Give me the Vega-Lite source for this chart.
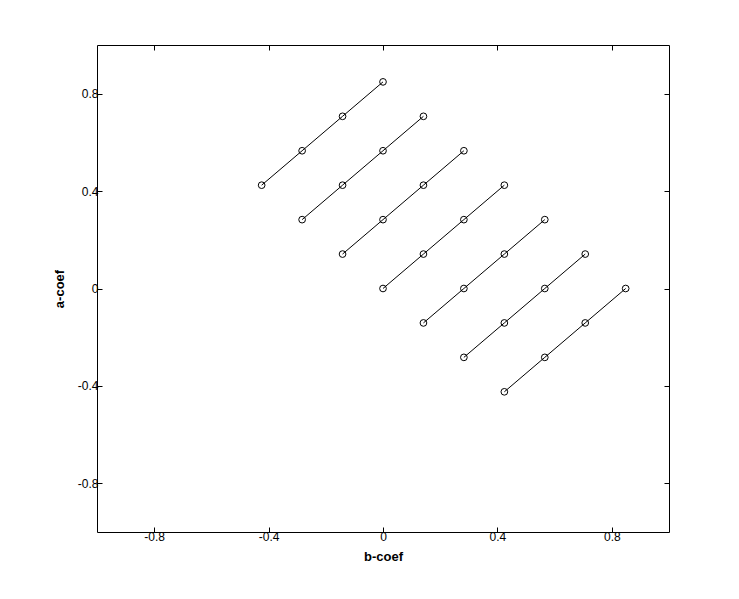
{
  "$schema": "https://vega.github.io/schema/vega-lite/v6.json",
  "width": 572,
  "height": 487,
  "autosize": {"type": "none"},
  "padding": {"left": 97, "top": 45, "right": 70, "bottom": 67},
  "background": "white",
  "config": {
    "view": {"stroke": "black", "strokeWidth": 1},
    "axis": {
      "domain": false,
      "grid": false,
      "tickSize": -5,
      "tickColor": "black",
      "labelFont": "Liberation Sans",
      "labelFontSize": 12,
      "labelColor": "black",
      "titleFont": "Liberation Sans",
      "titleFontSize": 13,
      "titleFontWeight": "bold",
      "titleColor": "black"
    }
  },
  "data": {
    "values": [
      {"line": 1, "b": -0.4243, "a": 0.4243},
      {"line": 1, "b": -0.2828, "a": 0.5657},
      {"line": 1, "b": -0.1414, "a": 0.7071},
      {"line": 1, "b": 0.0, "a": 0.8485},
      {"line": 2, "b": -0.2828, "a": 0.2828},
      {"line": 2, "b": -0.1414, "a": 0.4243},
      {"line": 2, "b": 0.0, "a": 0.5657},
      {"line": 2, "b": 0.1414, "a": 0.7071},
      {"line": 3, "b": -0.1414, "a": 0.1414},
      {"line": 3, "b": 0.0, "a": 0.2828},
      {"line": 3, "b": 0.1414, "a": 0.4243},
      {"line": 3, "b": 0.2828, "a": 0.5657},
      {"line": 4, "b": 0.0, "a": 0.0},
      {"line": 4, "b": 0.1414, "a": 0.1414},
      {"line": 4, "b": 0.2828, "a": 0.2828},
      {"line": 4, "b": 0.4243, "a": 0.4243},
      {"line": 5, "b": 0.1414, "a": -0.1414},
      {"line": 5, "b": 0.2828, "a": 0.0},
      {"line": 5, "b": 0.4243, "a": 0.1414},
      {"line": 5, "b": 0.5657, "a": 0.2828},
      {"line": 6, "b": 0.2828, "a": -0.2828},
      {"line": 6, "b": 0.4243, "a": -0.1414},
      {"line": 6, "b": 0.5657, "a": 0.0},
      {"line": 6, "b": 0.7071, "a": 0.1414},
      {"line": 7, "b": 0.4243, "a": -0.4243},
      {"line": 7, "b": 0.5657, "a": -0.2828},
      {"line": 7, "b": 0.7071, "a": -0.1414},
      {"line": 7, "b": 0.8485, "a": 0.0}
    ]
  },
  "layer": [
    {
      "mark": {"type": "line", "color": "black", "strokeWidth": 1},
      "encoding": {
        "x": {"field": "b", "type": "quantitative", "scale": {"domain": [-1, 1], "nice": false, "zero": false},
              "axis": {"orient": "bottom", "values": [-0.8, -0.4, 0, 0.4, 0.8], "labelExpr": "'' + datum.value", "title": "b-coef", "labelPadding": 4, "titlePadding": 8}},
        "y": {"field": "a", "type": "quantitative", "scale": {"domain": [-1, 1], "nice": false, "zero": false},
              "axis": {"orient": "left", "values": [-0.8, -0.4, 0, 0.4, 0.8], "labelExpr": "'' + datum.value", "title": "a-coef", "labelPadding": 4, "titlePadding": 11}},
        "detail": {"field": "line", "type": "nominal"}
      }
    },
    {
      "mark": {"type": "point", "shape": "circle", "filled": false, "color": "black", "size": 45, "strokeWidth": 1, "opacity": 1},
      "encoding": {
        "x": {"field": "b", "type": "quantitative",
              "axis": {"orient": "top", "values": [-0.8, -0.4, 0, 0.4, 0.8], "labels": false, "title": null}},
        "y": {"field": "a", "type": "quantitative",
              "axis": {"orient": "right", "values": [-0.8, -0.4, 0, 0.4, 0.8], "labels": false, "title": null}}
      }
    }
  ],
  "resolve": {"axis": {"x": "independent", "y": "independent"}}
}
